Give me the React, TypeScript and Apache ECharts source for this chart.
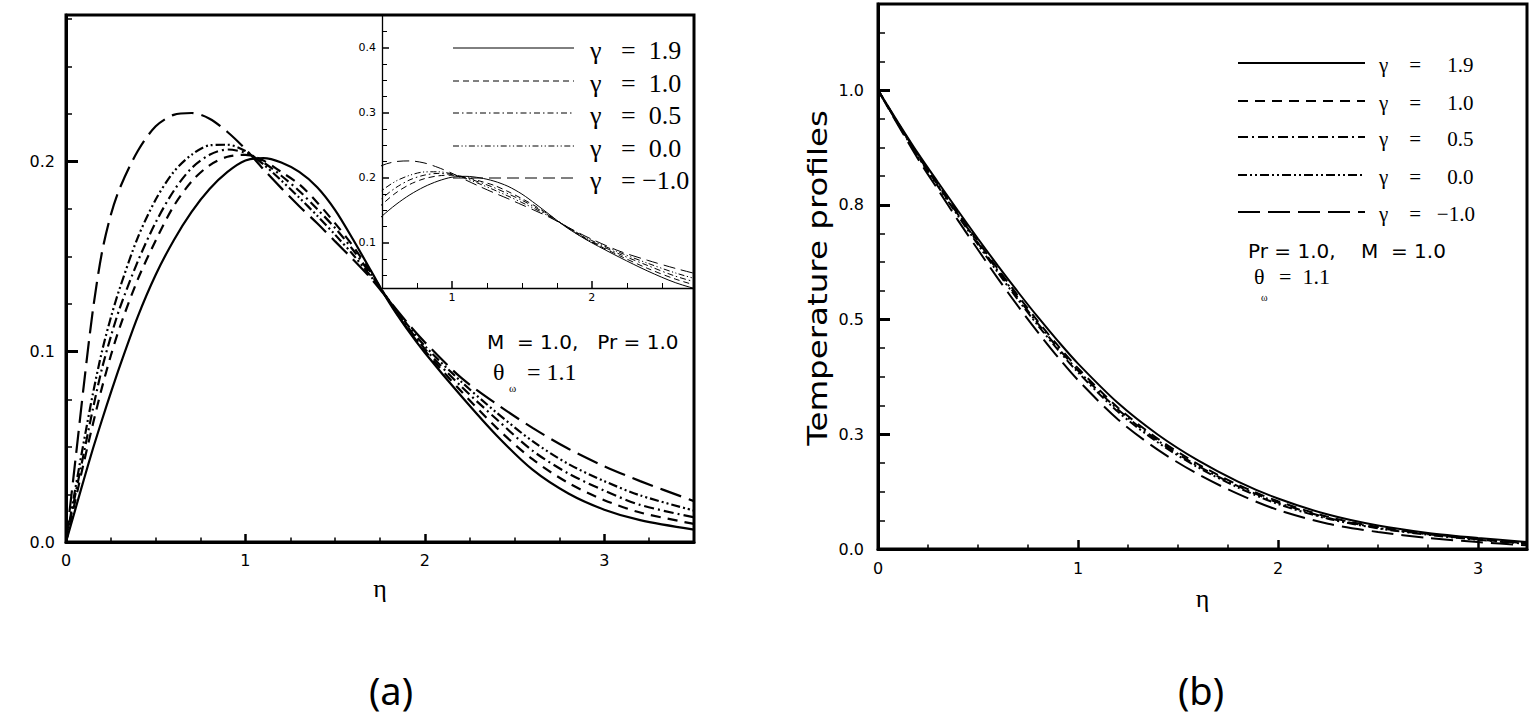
import React, { useEffect, useRef } from "react";
import * as echarts from "echarts";

// ---------------- (a) velocity profiles ----------------
const etaA = [0, 0.05, 0.1, 0.15, 0.2, 0.25, 0.3, 0.4, 0.5, 0.6, 0.7, 0.8, 0.9, 1.0, 1.1, 1.2, 1.3, 1.4, 1.5, 1.6, 1.7, 1.8, 1.9, 2.0, 2.2, 2.4, 2.6, 2.8, 3.0, 3.2, 3.5];
const fA_g19 = [0, 0.0165, 0.033, 0.049, 0.064, 0.0785, 0.0925, 0.1185, 0.1405, 0.1585, 0.1735, 0.1855, 0.1945, 0.2005, 0.2018, 0.1995, 0.1945, 0.1865, 0.1745, 0.159, 0.1425, 0.126, 0.112, 0.0995, 0.077, 0.056, 0.038, 0.0255, 0.017, 0.0115, 0.0065];
const fA_g10 = [0, 0.021, 0.042, 0.062, 0.081, 0.098, 0.113, 0.138, 0.1585, 0.1765, 0.1895, 0.198, 0.2025, 0.2035, 0.2005, 0.1945, 0.188, 0.1785, 0.1675, 0.1555, 0.1415, 0.1265, 0.1125, 0.1005, 0.0795, 0.06, 0.0435, 0.031, 0.022, 0.0155, 0.0095];
const fA_g05 = [0, 0.024, 0.047, 0.07, 0.091, 0.108, 0.123, 0.1475, 0.168, 0.1845, 0.1965, 0.2035, 0.2063, 0.2045, 0.1995, 0.1925, 0.1845, 0.175, 0.165, 0.1535, 0.1405, 0.127, 0.1135, 0.1015, 0.082, 0.0645, 0.048, 0.036, 0.027, 0.0195, 0.013];
const fA_g00 = [0, 0.027, 0.053, 0.078, 0.1, 0.118, 0.1335, 0.16, 0.18, 0.1945, 0.2035, 0.2085, 0.2088, 0.2055, 0.1985, 0.19, 0.181, 0.1715, 0.1615, 0.151, 0.1395, 0.127, 0.1145, 0.103, 0.0845, 0.068, 0.053, 0.041, 0.032, 0.0245, 0.0165];
const fA_gm1 = [0, 0.041, 0.083, 0.122, 0.152, 0.172, 0.186, 0.2055, 0.2185, 0.2245, 0.2255, 0.2225, 0.2155, 0.2065, 0.196, 0.186, 0.1765, 0.1675, 0.158, 0.1485, 0.1385, 0.127, 0.1155, 0.105, 0.0865, 0.0725, 0.06, 0.049, 0.0398, 0.032, 0.0215];

// ---------------- (b) temperature profiles ----------------
const etaB = [0, 0.1, 0.2, 0.3, 0.4, 0.5, 0.6, 0.7, 0.8, 0.9, 1.0, 1.2, 1.4, 1.6, 1.8, 2.0, 2.25, 2.5, 2.75, 3.0, 3.25];
const thB_g19 = [1.0, 0.930, 0.862, 0.799, 0.737, 0.676, 0.617, 0.560, 0.505, 0.453, 0.404, 0.318, 0.249, 0.193, 0.147, 0.110, 0.075, 0.051, 0.035, 0.024, 0.015];
const thB_g10 = [1.0, 0.928, 0.859, 0.795, 0.732, 0.670, 0.610, 0.552, 0.496, 0.443, 0.394, 0.308, 0.240, 0.185, 0.140, 0.104, 0.070, 0.048, 0.033, 0.022, 0.013];
const thB_g05 = [1.0, 0.927, 0.857, 0.792, 0.729, 0.667, 0.606, 0.547, 0.491, 0.438, 0.389, 0.304, 0.236, 0.181, 0.137, 0.101, 0.068, 0.046, 0.032, 0.021, 0.012];
const thB_g00 = [1.0, 0.926, 0.855, 0.790, 0.726, 0.663, 0.602, 0.543, 0.487, 0.434, 0.385, 0.299, 0.232, 0.178, 0.134, 0.098, 0.066, 0.045, 0.031, 0.020, 0.011];
const thB_gm1 = [1.0, 0.924, 0.850, 0.783, 0.716, 0.652, 0.589, 0.529, 0.472, 0.418, 0.368, 0.282, 0.216, 0.163, 0.120, 0.085, 0.055, 0.037, 0.024, 0.015, 0.008];

const gammaValues = ["1.9", "1.0", "0.5", "0.0", "−1.0"];

// ---------------- ticks ----------------
const xTicksA = [0, 1, 2, 3];
const xTickLabelsA = ["0", "1", "2", "3"];
const xMinorA = [0.25, 0.5, 0.75, 1.25, 1.5, 1.75, 2.25, 2.5, 2.75, 3.25];
const yTicksA = [0, 0.1, 0.2];
const yTickLabelsA = ["0.0", "0.1", "0.2"];
const yMinorA = [0.025, 0.05, 0.075, 0.125, 0.15, 0.175, 0.225, 0.25, 0.275];

const xTicksIn = [1, 2];
const xTickLabelsIn = ["1", "2"];
const xMinorIn = [0.75, 1.25, 1.5, 1.75, 2.25, 2.5];
const yTicksIn = [0.1, 0.2, 0.3, 0.4];
const yTickLabelsIn = ["0.1", "0.2", "0.3", "0.4"];
const yMinorIn = [0.05, 0.075, 0.125, 0.15, 0.175, 0.225, 0.25, 0.275, 0.325, 0.35, 0.375, 0.425];

const xTicksB = [0, 1, 2, 3];
const xTickLabelsB = ["0", "1", "2", "3"];
const xMinorB = [0.25, 0.5, 0.75, 1.25, 1.5, 1.75, 2.25, 2.5, 2.75];
const yTicksB = [0, 0.25, 0.5, 0.75, 1.0];
const yTickLabelsB = ["0.0", "0.3", "0.5", "0.8", "1.0"];
const yMinorB = [0.0625, 0.125, 0.1875, 0.3125, 0.375, 0.4375, 0.5625, 0.625, 0.6875, 0.8125, 0.875, 0.9375, 1.0625, 1.125];

// ---------------- styling helpers ----------------
const BLACK = "#000";
const SANS = "'DejaVu Sans', sans-serif";
const SERIF = "'Liberation Serif', 'DejaVu Serif', serif";
const NB = "\u00A0";

const dashMain: any[] = ["solid", [10, 7], [10, 4, 2, 4], [9, 3, 2, 3, 2, 3], [22, 8]];
const dashInset: any[] = ["solid", [6, 4], [6, 3, 1.5, 3], [6, 2.5, 1.2, 2.5, 1.2, 2.5], [12, 6]];

function labelFor(ticks: number[], labels: string[]) {
  return (v: number) => {
    const i = ticks.findIndex((t) => Math.abs(t - v) < 1e-6);
    return i >= 0 ? labels[i] : "";
  };
}

function majorAxis(dim: "x" | "y", grid: number, min: number, max: number, ticks: number[], labels: string[], o: any) {
  return {
    type: "value",
    gridIndex: grid,
    min,
    max,
    position: dim === "x" ? "bottom" : "left",
    z: o.z ?? 0,
    axisLine: { show: true, onZero: false, lineStyle: { color: BLACK, width: o.line } },
    axisTick: { show: true, inside: true, length: o.tickLen, lineStyle: { color: BLACK, width: o.tickW }, customValues: ticks },
    axisLabel: {
      show: true,
      customValues: ticks,
      formatter: labelFor(ticks, labels),
      color: BLACK,
      fontFamily: SANS,
      fontSize: o.fs,
      margin: o.margin,
    },
    splitLine: { show: false },
    ...(o.extra || {}),
  };
}

function minorAxis(dim: "x" | "y", grid: number, min: number, max: number, ticks: number[], o: any) {
  return {
    type: "value",
    gridIndex: grid,
    min,
    max,
    position: dim === "x" ? "bottom" : "left",
    z: o.z ?? 0,
    axisLine: { show: false, onZero: false },
    axisTick: { show: true, inside: true, length: o.len, lineStyle: { color: BLACK, width: o.w }, customValues: ticks },
    axisLabel: { show: false },
    splitLine: { show: false },
  };
}

function lineSeries(name: string, xs: number[], ys: number[], axis: number, dash: any, width: number, z: number) {
  return {
    type: "line",
    name,
    xAxisIndex: axis,
    yAxisIndex: axis,
    data: xs.map((x, i) => [x, ys[i]]),
    showSymbol: false,
    symbol: "none",
    smooth: 0.3,
    clip: true,
    silent: true,
    z,
    lineStyle: { color: BLACK, width, type: dash },
  };
}

function gammaText(v: string, before: number, after: number) {
  return "γ" + NB.repeat(before) + "=" + NB.repeat(after) + v;
}

function txt(text: string, x: number, y: number, size: number, family: string, align = "left", extra: any = {}) {
  return {
    type: "text",
    x,
    y,
    z: 60,
    silent: true,
    style: { text, fill: BLACK, fontSize: size, fontFamily: family, align, verticalAlign: "middle" },
    ...extra,
  };
}

function buildOption() {
  const seriesA = [fA_g19, fA_g10, fA_g05, fA_g00, fA_gm1];
  const seriesB = [thB_g19, thB_g10, thB_g05, thB_g00, thB_gm1];
  const names = gammaValues.map((v) => "γ = " + v);

  const insetRows = [48, 81, 113, 146, 178];
  const bRows = [63, 101, 137, 175, 212];

  const graphic: any[] = [];
  // inset white background (between main curves and inset curves)
  graphic.push({ type: "rect", z: 5, silent: true, shape: { x: 383, y: 16.5, width: 309.5, height: 271 }, style: { fill: "#fff" } });
  // main (a) frame
  graphic.push({ type: "rect", z: 50, silent: true, shape: { x: 66, y: 15, width: 628, height: 527 }, style: { fill: "none", stroke: BLACK, lineWidth: 3 } });

  // legend (a) inset
  insetRows.forEach((y, i) => {
    graphic.push({ type: "line", z: 13, silent: true, shape: { x1: 453, y1: y, x2: 574, y2: y }, style: { stroke: BLACK, lineWidth: 1, lineDash: i === 0 ? null : dashInset[i] } });
    const neg = gammaValues[i].startsWith("−");
    graphic.push(txt(gammaText(gammaValues[i], 3, neg ? 1 : 2), 590, y + 2, 26, SERIF));
  });
  // legend (b)
  bRows.forEach((y, i) => {
    graphic.push({ type: "line", z: 13, silent: true, shape: { x1: 1238, y1: y, x2: 1365, y2: y }, style: { stroke: BLACK, lineWidth: 2, lineDash: i === 0 ? null : dashMain[i] } });
    const neg = gammaValues[i].startsWith("−");
    graphic.push(txt(gammaText(gammaValues[i], 4, neg ? 3 : 5), 1379, y + 2, 21, SERIF));
  });

  // annotations (a)
  graphic.push(txt("M" + NB + NB + "= 1.0," + NB + NB + NB + "Pr = 1.0", 487, 342, 20, SANS));
  graphic.push(txt("θ", 493, 372, 24, SERIF));
  graphic.push(txt("ω", 509, 388, 11, SERIF));
  graphic.push(txt("=" + NB + "1.1", 527, 372, 24, SERIF));
  // annotations (b)
  graphic.push(txt("Pr = 1.0," + NB + NB + NB + NB + "M" + NB + NB + "=" + NB + "1.0", 1248, 251, 20, SANS));
  graphic.push(txt("θ", 1254, 276, 22, SERIF));
  graphic.push(txt("ω", 1261, 297, 10, SERIF));
  graphic.push(txt("=" + NB + NB + "1.1", 1279, 276, 22, SERIF));

  // y-axis title (b)
  graphic.push(txt("Temperature profiles", 818, 278, 26, SANS, "center", { rotation: Math.PI / 2, scaleX: 1.25 }));

  // panel captions
  graphic.push(txt("(a)", 391, 690, 38, "'Noto Sans', sans-serif", "center"));
  graphic.push(txt("(b)", 1201, 690, 38, "'Noto Sans', sans-serif", "center"));

  const etaName = (gap: number) => ({
    name: "η",
    nameLocation: "middle",
    nameGap: gap,
    nameTextStyle: { fontFamily: SERIF, fontSize: 26, color: BLACK, verticalAlign: "middle" },
  });

  return {
    animation: false,
    backgroundColor: "#fff",
    grid: [
      { left: 66, top: 15, width: 628, height: 527, show: false, containLabel: false, outerBoundsMode: "none" },
      { left: 382, top: 15, width: 312, height: 273, show: false, z: 10, containLabel: false, outerBoundsMode: "none" },
      { left: 878, top: 4, width: 649, height: 545, show: true, borderColor: BLACK, borderWidth: 3, backgroundColor: "transparent", containLabel: false, outerBoundsMode: "none" },
    ],
    xAxis: [
      majorAxis("x", 0, 0, 3.5, xTicksA, xTickLabelsA, { line: 3, tickLen: 8, tickW: 2.5, fs: 16, margin: 10, extra: etaName(46) }),
      minorAxis("x", 0, 0, 3.5, xMinorA, { len: 4.5, w: 1.5 }),
      majorAxis("x", 1, 0.5, 2.73, xTicksIn, xTickLabelsIn, { line: 1.3, tickLen: 7, tickW: 1.5, fs: 11, margin: 4, z: 11 }),
      minorAxis("x", 1, 0.5, 2.73, xMinorIn, { len: 5, w: 1, z: 11 }),
      majorAxis("x", 2, 0, 3.245, xTicksB, xTickLabelsB, { line: 3, tickLen: 9, tickW: 2.5, fs: 16, margin: 11, extra: etaName(49) }),
      minorAxis("x", 2, 0, 3.245, xMinorB, { len: 4.5, w: 1.5 }),
    ],
    yAxis: [
      majorAxis("y", 0, 0, 0.277, yTicksA, yTickLabelsA, { line: 3, tickLen: 12, tickW: 3, fs: 16, margin: 11 }),
      minorAxis("y", 0, 0, 0.277, yMinorA, { len: 6, w: 1.5 }),
      majorAxis("y", 1, 0.03, 0.45, yTicksIn, yTickLabelsIn, { line: 1.3, tickLen: 7, tickW: 1.5, fs: 11, margin: 6, z: 11 }),
      minorAxis("y", 1, 0.03, 0.45, yMinorIn, { len: 5, w: 1, z: 11 }),
      majorAxis("y", 2, 0, 1.1875, yTicksB, yTickLabelsB, { line: 3, tickLen: 12, tickW: 3, fs: 16, margin: 14 }),
      minorAxis("y", 2, 0, 1.1875, yMinorB, { len: 7, w: 1.5 }),
    ],
    series: [
      ...seriesA.map((ys, i) => lineSeries(names[i], etaA, ys, 0, dashMain[i], 2.2, 2)),
      ...seriesA.map((ys, i) => lineSeries(names[i] + " (inset)", etaA, ys, 2, dashInset[i], 1, 12)),
      ...seriesB.map((ys, i) => lineSeries(names[i] + " (b)", etaB, ys, 4, dashMain[i], 2, 2)),
    ],
    graphic,
  };
}

export default function App() {
  const ref = useRef<HTMLDivElement>(null);
  useEffect(() => {
    if (!ref.current) return;
    const chart = echarts.init(ref.current, undefined, { renderer: "svg" });
    chart.setOption(buildOption() as any);
    return () => {
      chart.dispose();
    };
  }, []);
  return (
    <div
      ref={ref}
      style={{ position: "absolute", left: 0, top: 0, width: 1534, height: 719, background: "#fff" }}
    />
  );
}
